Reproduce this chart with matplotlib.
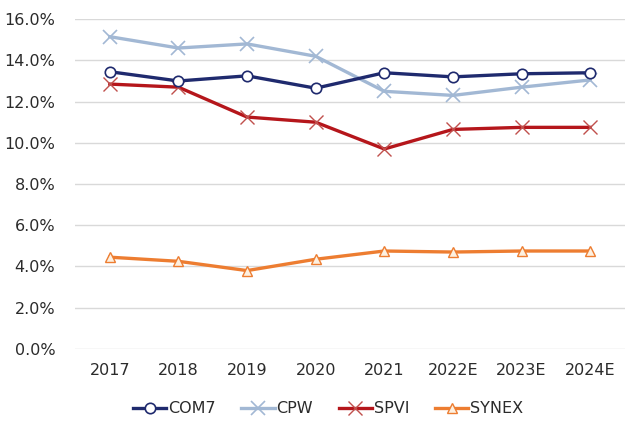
import numpy as np
import matplotlib
matplotlib.use('Agg')
import matplotlib.pyplot as plt
from matplotlib.ticker import FuncFormatter

# Data (%)
years = ['2017', '2018', '2019', '2020', '2021', '2022E', '2023E', '2024E']
com7 = [13.45, 13.0, 13.25, 12.65, 13.4, 13.2, 13.35, 13.4]
cpw = [15.15, 14.6, 14.8, 14.2, 12.5, 12.3, 12.7, 13.05]
spvi = [12.85, 12.7, 11.25, 11.0, 9.7, 10.65, 10.75, 10.75]
synex = [4.45, 4.25, 3.8, 4.35, 4.75, 4.7, 4.75, 4.75]

plt.rcParams['font.family'] = ['DejaVu Sans']

fig = plt.figure(figsize=(6.34, 4.26), dpi=100)
ax = fig.add_axes([0.118, 0.181, 0.868, 0.774])
x = np.arange(len(years))

ax.plot(x, com7, color='#1F2A6E', linewidth=2.4, marker='o', markersize=7.5,
        markerfacecolor='white', markeredgecolor='#1F2A6E', markeredgewidth=1.2, label='COM7', zorder=4)
ax.plot(x, cpw, color='#A2B8D4', linewidth=2.4, marker='x', markersize=10,
        markeredgecolor='#A2B8D4', markeredgewidth=1.2, label='CPW', zorder=3)
ax.plot(x, spvi, color='#B5161B', linewidth=2.4, marker='x', markersize=10,
        markeredgecolor='#C0504D', markeredgewidth=1.0, label='SPVI', zorder=3)
ax.plot(x, synex, color='#ED7D31', linewidth=2.4, marker='^', markersize=7.5,
        markerfacecolor='#FDF0E0', markeredgecolor='#ED7D31', markeredgewidth=1.0, label='SYNEX', zorder=3)

ax.set_ylim(0, 16)
ax.set_yticks(np.arange(0, 16.1, 2))
ax.yaxis.set_major_formatter(FuncFormatter(lambda v, p: f'{v:.1f}%'))
ax.set_xlim(-0.51, len(years) - 0.49)
ax.set_xticks(x)
ax.set_xticklabels(years)
ax.tick_params(axis='both', length=0, labelsize=11.5, colors='#2B2B2B')
ax.tick_params(axis='x', pad=10)
ax.tick_params(axis='y', pad=14)
ax.grid(axis='y', color='#D9D9D9', linewidth=1)
ax.set_axisbelow(True)
for s in ax.spines.values():
    s.set_visible(False)

leg = ax.legend(loc='upper center', bbox_to_anchor=(0.46, -0.115), ncol=4, frameon=False,
                fontsize=11.5, handlelength=2.1, columnspacing=1.6, handletextpad=0.1)
for t in leg.get_texts():
    t.set_color('#2B2B2B')

fig.savefig('out.png', dpi=100)
